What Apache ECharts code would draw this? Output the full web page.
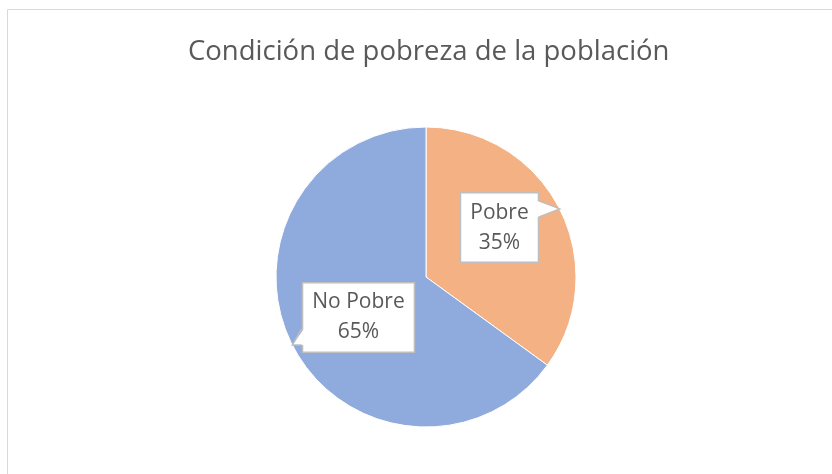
<!DOCTYPE html>
<html><head><meta charset="utf-8">
<script src="https://cdn.jsdelivr.net/npm/echarts@6/dist/echarts.min.js"></script>
<style>html,body{margin:0;padding:0;background:#fff}#c{width:832px;height:474px}</style>
</head><body><div id="c"></div>
<script>
var titleText = 'Condición de pobreza de la población';
var categories = ['Pobre', 'No Pobre'];
var values = [35, 65];

var colors = ['#F4B183', '#8FAADC'];
var labelOffsets = [[4, -14], [2, 5]];
var W = 832, H = 474, CX = 426, CY = 277, R = 150;

var chart = echarts.init(document.getElementById('c'), null, {renderer: 'canvas'});
var rects = {};

function buildOption(extraGraphics) {
  var g = [{
    type: 'rect', z: 0, silent: true,
    shape: {x: 7.5, y: 9.5, width: 900, height: 600},
    style: {fill: 'none', stroke: '#d9d9d9', lineWidth: 1}
  }].concat(extraGraphics || []);
  return {
    animation: false,
    backgroundColor: '#fff',
    title: {
      text: titleText, left: 183, top: 33,
      textStyle: {fontFamily: 'Open Sans', fontSize: 27.5, fontWeight: 'normal', color: '#595959'}
    },
    graphic: g,
    series: [{
      type: 'pie',
      center: [CX, CY], radius: R,
      startAngle: 90, clockwise: true,
      itemStyle: {borderColor: '#fff', borderWidth: 1},
      label: {
        show: true, position: 'inside',
        formatter: '{b}\n{d}%',
        fontFamily: 'Open Sans', fontSize: 21, lineHeight: 30, color: '#595959',
        backgroundColor: '#fff', borderColor: '#bfbfbf', borderWidth: 1.5,
        padding: [4, 9]
      },
      labelLine: {show: false},
      labelLayout: function (p) {
        rects[p.dataIndex] = p.labelRect;
        return {};
      },
      data: categories.map(function (c, i) {
        return {name: c, value: values[i], itemStyle: {color: colors[i]},
                label: {offset: labelOffsets[i]}};
      })
    }]
  };
}

chart.setOption(buildOption());

function pointers() {
  var total = values.reduce(function (a, b) { return a + b; }, 0);
  var acc = 0, out = [];
  values.forEach(function (v, i) {
    var mid = (acc + v / 2) / total * 2 * Math.PI;
    acc += v;
    var tx = CX + R * Math.sin(mid), ty = CY - R * Math.cos(mid);
    var r = rects[i];
    if (!r) return;
    var right = tx > r.x + r.width;
    var ex = right ? r.x + r.width : r.x;
    var half = 8;
    var c = Math.max(r.y + 8 + half, Math.min(r.y + r.height - 8 - half, ty));
    var b1 = [ex, c - half], b2 = [ex, c + half];
    var inset = right ? -2 : 2;
    out.push({
      type: 'polygon', z: 100, silent: true,
      shape: {points: [[ex + inset, c - half], [tx, ty], [ex + inset, c + half]]},
      style: {fill: '#fff', stroke: null}
    });
    out.push({
      type: 'polyline', z: 101, silent: true,
      shape: {points: [b1, [tx, ty], b2]},
      style: {stroke: '#bfbfbf', lineWidth: 1.5, fill: null}
    });
  });
  return out;
}

chart.setOption(buildOption(pointers()), true);
</script>
</body></html>
